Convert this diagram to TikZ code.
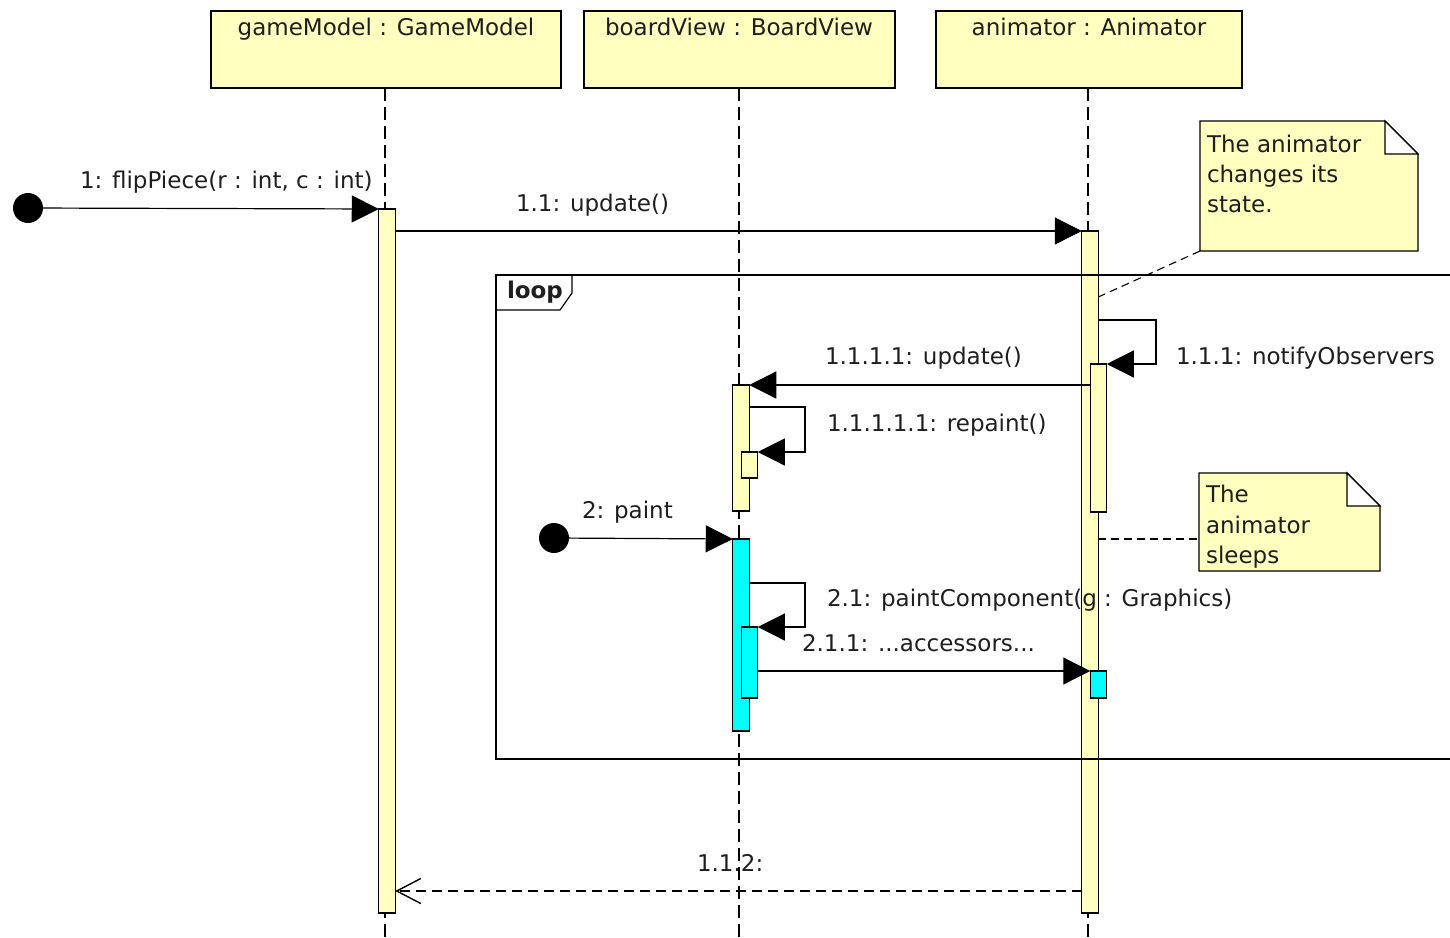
\documentclass[tikz,border=0pt]{standalone}
\usepackage{fontspec}
\setmainfont{DejaVu Sans}
\usetikzlibrary{arrows.meta,calc}
\definecolor{actyellow}{HTML}{FFFFC0}
\definecolor{cyanfill}{HTML}{00FFFF}
\definecolor{txt}{HTML}{1E1E1E}
\begin{document}
\begin{tikzpicture}[x=1pt,y=-1pt,
 every node/.style={inner sep=0pt, outer sep=0pt},
 lbl/.style={anchor=base west, font=\fontsize{23}{30}\selectfont, text=txt},
 headbox/.style={draw, fill=actyellow, line width=1.2pt, anchor=north west, minimum height=77pt},
 actbar/.style={draw, fill=actyellow, line width=1.1pt, minimum width=16.5pt, anchor=north},
 cactbar/.style={actbar, fill=cyanfill},
 lifeline/.style={line width=1.1pt, dash pattern=on 13pt off 6pt},
 msgarrow/.style={line width=1.2pt, -{Triangle[length=27pt,width=27pt]}},
 retarrow/.style={line width=1.2pt, dash pattern=on 10pt off 6pt, -{Straight Barb[length=24pt,width=25pt,line width=1.4pt]}},
 notelink/.style={line width=1.1pt, dash pattern=on 8pt off 5pt},
 startdot/.style={circle, fill=black, minimum size=30pt},
 noteframe/.style={anchor=north west}
]
\useasboundingbox (0,0) rectangle (1450,937);

% headers
\node[headbox, minimum width=350pt] (gm) at (211,11) {};
\node[headbox, minimum width=311pt] (bv) at (584,11) {};
\node[headbox, minimum width=306pt] (an) at (936,11) {};
\node[lbl, anchor=base] (gmT) at (386,35) {gameModel : GameModel};
\node[lbl, anchor=base] (bvT) at (739,35) {boardView : BoardView};
\node[lbl, anchor=base] (anT) at (1089,35) {animator : Animator};

% lifelines
\coordinate (gmEnd) at (385,937);
\coordinate (bvEnd) at (739,937);
\coordinate (anEnd) at (1088,937);
\draw[lifeline] (gm.south -| gmEnd) -- (gmEnd);
\draw[lifeline] (bv.south -| bvEnd) -- (bvEnd);
\draw[lifeline] (an.south -| anEnd) -- (anEnd);

% activations
\node[actbar, minimum height=704pt] (gmA) at (387,209) {};
\node[actbar, minimum height=682pt] (anA) at (1090,231) {};
\node[actbar, minimum height=148pt] (anB) at (1098.5,364) {};
\node[actbar, minimum height=126pt] (bvA) at (741,385) {};
\node[actbar, minimum height=26pt] (bvB) at (749.5,452) {};
\node[cactbar, minimum height=192pt] (bvC) at (741,539) {};
\node[cactbar, minimum height=71pt] (bvD) at (749.5,627) {};
\node[cactbar, minimum height=27pt] (anC) at (1098.5,671) {};

% loop frame
\coordinate (lpTL) at (496,275);
\coordinate (lpBL) at (496,759);
\draw[line width=1.2pt] (1452,275) -- (lpTL) -- (lpBL) -- (1452,759);
\draw[line width=1.2pt] (496,310) -- (560,310) -- (572,293) -- (572,275);
\node[lbl, font=\fontsize{23}{30}\selectfont\bfseries] (lpT) at (507,298) {loop};

% start dots
\node[startdot] (d1) at (28,208) {};
\node[startdot] (d2) at (554,538) {};

% messages
\draw[msgarrow] (d1) -- (gmA.north west);
\node[lbl] (l1) at (80,188) {1: flipPiece(r : int, c : int)};

\draw[msgarrow] (gmA.east |- anA.north) -- (anA.north west);
\node[lbl] (l11) at (516,211) {1.1: update()};

\coordinate (s111) at (1156,320);
\draw[msgarrow] (anA.east |- s111) -- (s111) |- (anB.north east);
\node[lbl] (l111) at (1176,364) {1.1.1: notifyObservers};

\draw[msgarrow] (anB.west |- bvA.north) -- (bvA.north east);
\node[lbl] (l1111) at (825,364) {1.1.1.1: update()};

\coordinate (s11111) at (805,407);
\draw[msgarrow] (bvA.east |- s11111) -- (s11111) |- (bvB.north east);
\node[lbl] (l11111) at (827,431) {1.1.1.1.1: repaint()};

\draw[msgarrow] (d2) -- (bvC.north west);
\node[lbl] (l2) at (582,518) {2: paint};

\coordinate (s21) at (805,583);
\draw[msgarrow] (bvC.east |- s21) -- (s21) |- (bvD.north east);
\node[lbl] (l21) at (827,606) {2.1: paintComponent(g : Graphics)};

\draw[msgarrow] (bvD.east |- anC.north) -- (anC.north west);
\node[lbl] (l211) at (802,651) {2.1.1: ...accessors...};

\coordinate (r112) at (1081,891);
\draw[retarrow] (anA.west |- r112) -- (gmA.east |- r112);
\node[lbl] (l112) at (697,871) {1.1.2:};

% note 1
\node[noteframe, minimum width=218pt, minimum height=130pt] (note1) at (1200,121) {};
\filldraw[fill=actyellow, line width=1.2pt] (note1.north west) -- ($(note1.north east)+(-33,0)$) -- ($(note1.north east)+(0,33)$) -- (note1.south east) -- (note1.south west) -- cycle;
\filldraw[fill=white, line width=1.2pt] ($(note1.north east)+(-33,0)$) -- ($(note1.north east)+(-33,33)$) -- ($(note1.north east)+(0,33)$) -- cycle;
\node[lbl] (n1a) at (1207,152) {The animator};
\node[lbl] (n1b) at (1207,182) {changes its};
\node[lbl] (n1c) at (1207,212) {state.};
\draw[notelink] (note1.south west) -- (anA.east |- 0,297);

% note 2
\node[noteframe, minimum width=181pt, minimum height=98pt] (note2) at (1199,473) {};
\filldraw[fill=actyellow, line width=1.2pt] (note2.north west) -- ($(note2.north east)+(-33,0)$) -- ($(note2.north east)+(0,33)$) -- (note2.south east) -- (note2.south west) -- cycle;
\filldraw[fill=white, line width=1.2pt] ($(note2.north east)+(-33,0)$) -- ($(note2.north east)+(-33,33)$) -- ($(note2.north east)+(0,33)$) -- cycle;
\node[lbl] (n2a) at (1206,502) {The};
\node[lbl] (n2b) at (1206,533) {animator};
\node[lbl] (n2c) at (1206,563) {sleeps};
\draw[notelink] (anA.east |- 0,539) -- (note2.west |- 0,539);

\end{tikzpicture}
\end{document}
